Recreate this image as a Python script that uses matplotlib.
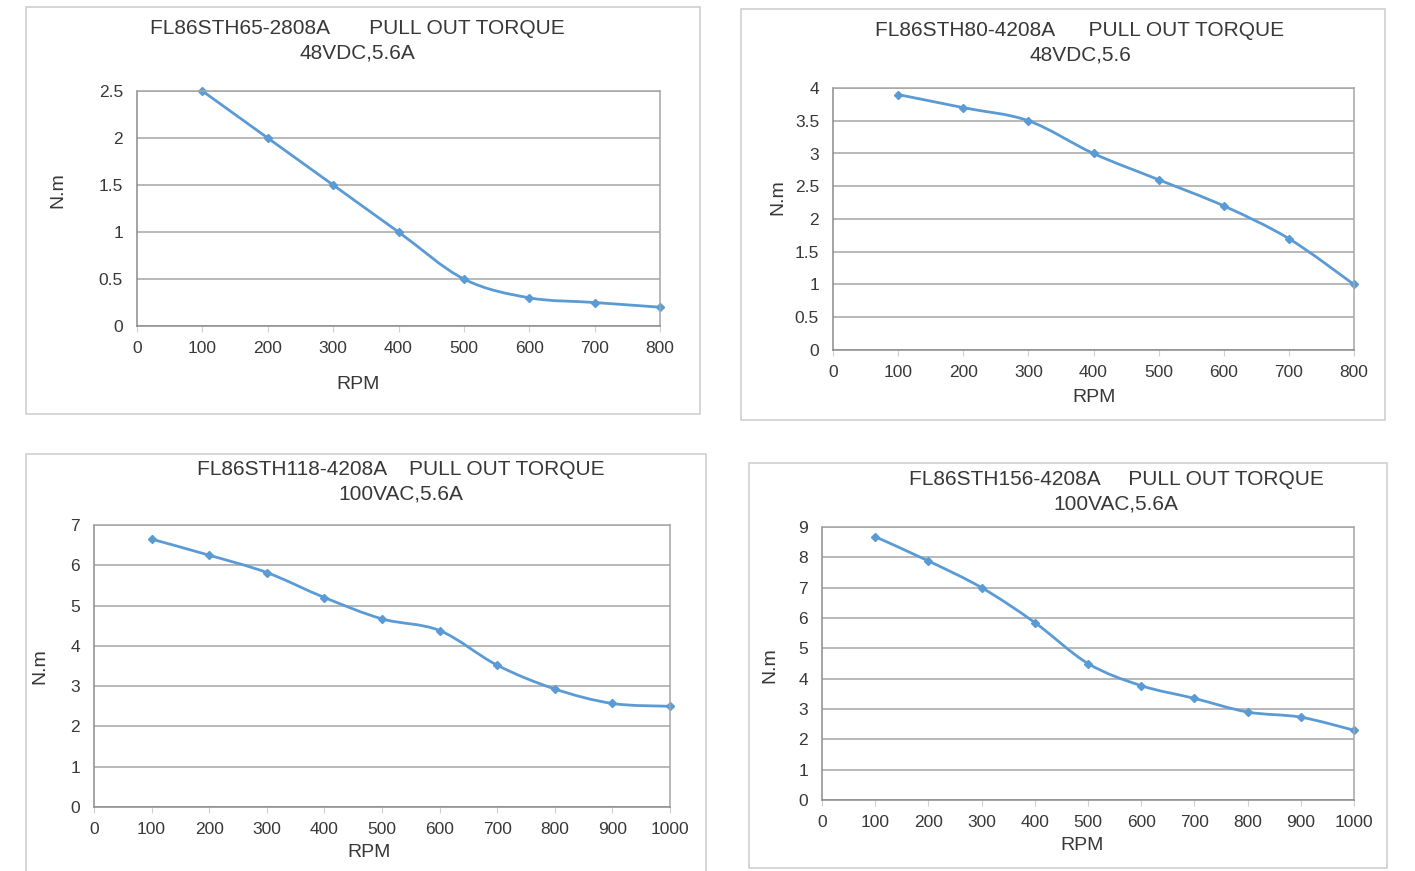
import matplotlib
matplotlib.use('Agg')
import matplotlib.pyplot as plt
import numpy as np
from matplotlib.path import Path
from matplotlib.patches import PathPatch, Rectangle

plt.rcParams['font.family'] = ['Liberation Sans', 'DejaVu Sans']

W, H = 1415, 871
BLUE = '#5B9BD5'
TXT = '#383838'
GRID = '#A6A6A6'

# ─── data ───
rpm_800 = [100, 200, 300, 400, 500, 600, 700, 800]
rpm_1000 = [100, 200, 300, 400, 500, 600, 700, 800, 900, 1000]

torque_65 = [2.5, 2.0, 1.5, 1.0, 0.5, 0.3, 0.25, 0.2]
torque_80 = [3.9, 3.7, 3.5, 3.0, 2.6, 2.2, 1.7, 1.0]
torque_118 = [6.65, 6.25, 5.82, 5.2, 4.67, 4.38, 3.52, 2.93, 2.57, 2.5]
torque_156 = [8.68, 7.88, 7.0, 5.85, 4.5, 3.77, 3.35, 2.9, 2.73, 2.3]

titles = ['FL86STH65-2808A       PULL OUT TORQUE\n48VDC,5.6A',
          'FL86STH80-4208A      PULL OUT TORQUE\n48VDC,5.6',
          'FL86STH118-4208A    PULL OUT TORQUE\n100VAC,5.6A',
          'FL86STH156-4208A     PULL OUT TORQUE\n100VAC,5.6A']


def fx(x):
    return x / W


def fy(y):
    return 1 - y / H


def smooth_path(x, y):
    # Excel-style smoothed line: cubic Bezier segments through the data points
    x = np.asarray(x, float)
    y = np.asarray(y, float)
    n = len(x)
    verts = [(x[0], y[0])]
    codes = [Path.MOVETO]
    for i in range(n - 1):
        p0 = max(i - 1, 0)
        p3 = min(i + 2, n - 1)
        c1 = (x[i] + (x[i + 1] - x[p0]) / 6, y[i] + (y[i + 1] - y[p0]) / 6)
        c2 = (x[i + 1] - (x[p3] - x[i]) / 6, y[i + 1] - (y[p3] - y[i]) / 6)
        verts += [c1, c2, (x[i + 1], y[i + 1])]
        codes += [Path.CURVE4] * 3
    return Path(verts, codes)


fig = plt.figure(figsize=(W / 100, H / 100), dpi=100)

# panel: border box, plot box (px), x data, y data, x max, y max, y step, title centre/y, label positions
panels = [
    dict(box=(26, 7, 700, 414), plot=(137, 91, 660, 326), x=rpm_800, y=torque_65,
         xmax=800, ymax=2.5, ystep=0.5, tx=357, ty=41, ylab=(58, 190), xlab=(358, 384)),
    dict(box=(741, 9, 1385, 420), plot=(833, 88, 1354, 350), x=rpm_800, y=torque_80,
         xmax=800, ymax=4, ystep=0.5, tx=1080, ty=43, ylab=(778, 197), xlab=(1094, 397)),
    dict(box=(26, 454, 706, 880), plot=(94, 525, 670, 807), x=rpm_1000, y=torque_118,
         xmax=1000, ymax=7, ystep=1, tx=401, ty=482, ylab=(40, 666), xlab=(369, 852)),
    dict(box=(749, 463, 1387, 868), plot=(822, 527, 1354, 800), x=rpm_1000, y=torque_156,
         xmax=1000, ymax=9, ystep=1, tx=1116, ty=492, ylab=(770, 665), xlab=(1082, 845)),
]

for p, title in zip(panels, titles):
    bx0, by0, bx1, by1 = p['box']
    fig.patches.append(Rectangle((fx(bx0), fy(by1)), fx(bx1 - bx0), (by1 - by0) / H,
                                 transform=fig.transFigure, fill=False,
                                 edgecolor='#D0D0D0', lw=1.2))
    x0, y0, x1, y1 = p['plot']
    ax = fig.add_axes([fx(x0), fy(y1), fx(x1 - x0), (y1 - y0) / H])
    ax.set_xlim(0, p['xmax'])
    ax.set_ylim(0, p['ymax'])
    ax.set_xticks(np.arange(0, p['xmax'] + 1, 100))
    yt = np.arange(0, p['ymax'] + 1e-9, p['ystep'])
    ax.set_yticks(yt)
    ax.set_yticklabels([f'{v:g}' for v in yt])
    ax.grid(axis='y', color=GRID, lw=1.1)
    ax.set_axisbelow(True)
    for s in ax.spines.values():
        s.set_color(GRID)
        s.set_linewidth(1.1)
    ax.spines['left'].set_color('#8C8C8C')
    ax.spines['bottom'].set_color('#8C8C8C')
    ax.tick_params(axis='y', length=0, pad=10, labelsize=12.5, labelcolor=TXT)
    ax.tick_params(axis='x', length=4, color='#D0D0D0', pad=7, labelsize=12.5, labelcolor=TXT)

    ax.add_patch(PathPatch(smooth_path(p['x'], p['y']), fill=False, edgecolor=BLUE,
                           lw=2, clip_on=False))
    ax.plot(p['x'], p['y'], linestyle='None', marker='D', markersize=4.5, color=BLUE,
            clip_on=False)

    fig.text(fx(p['tx']), fy(p['ty']), title, ha='center', va='center',
             fontsize=15, color=TXT, linespacing=1.35)
    fig.text(fx(p['ylab'][0]), fy(p['ylab'][1]), 'N.m', rotation=90, ha='center',
             va='center', fontsize=14, color=TXT)
    fig.text(fx(p['xlab'][0]), fy(p['xlab'][1]), 'RPM', ha='center', va='center',
             fontsize=14, color=TXT)

fig.savefig('out.png', dpi=100, facecolor='white')
